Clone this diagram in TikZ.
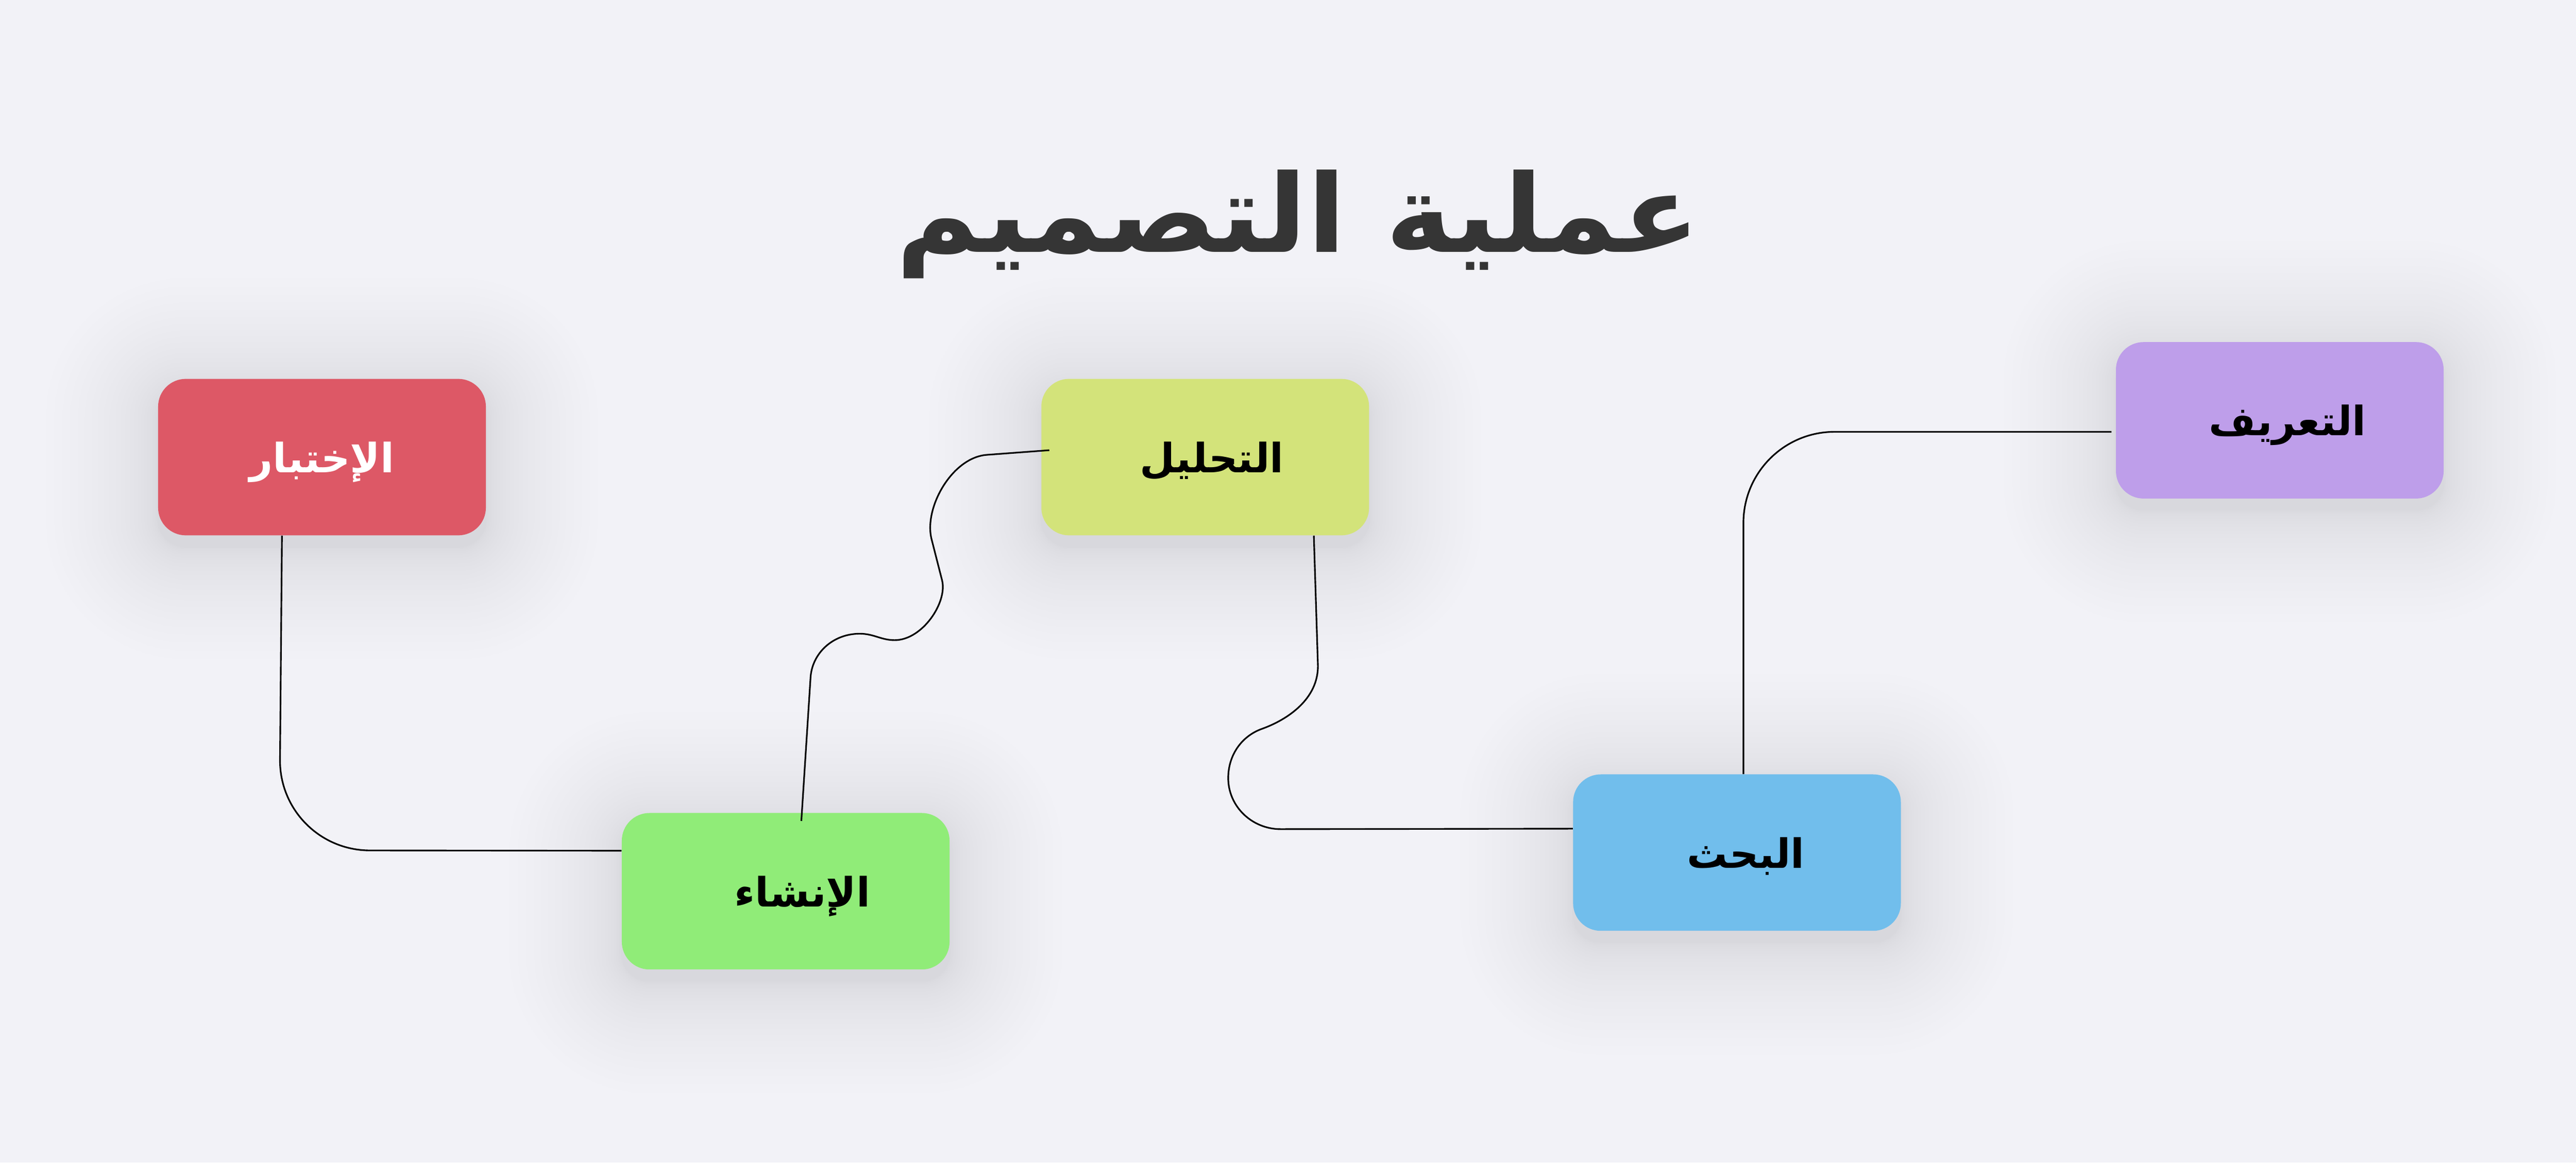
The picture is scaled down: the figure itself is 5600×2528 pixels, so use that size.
\documentclass[tikz,border=0pt]{standalone}
\usepackage{fontspec}
\usepackage{tikz}
\TeXXeTstate=1
\newfontfamily\arabicfont[Script=Arabic]{DejaVu Sans}
\newfontfamily\titlefont[Script=Arabic, FakeStretch=1.045]{DejaVu Sans}
\definecolor{bggray}{HTML}{F2F2F7}
\definecolor{titlegray}{HTML}{353535}
\definecolor{shadowtint}{HTML}{282838}
\definecolor{testred}{HTML}{DD5866}
\definecolor{analyzelime}{HTML}{D3E37A}
\definecolor{definelilac}{HTML}{BE9EEA}
\definecolor{buildgreen}{HTML}{90EC78}
\definecolor{searchblue}{HTML}{71BEEC}
\pgfdeclarelayer{canvas}
\pgfdeclarelayer{shade}
\pgfsetlayers{canvas,shade,main}

\begin{document}
\begin{tikzpicture}[x=0.01cm,y=-0.01cm,
    stage/.style={rectangle, rounded corners=0.6cm, minimum width=7.12cm, minimum height=3.4cm, inner sep=0pt,
      font=\arabicfont\bfseries\fontsize{25pt}{30pt}\selectfont, text height=24pt, text depth=5pt},
    link/.style={draw=black, line width=1pt}]
  \begin{pgfonlayer}{canvas}
    \fill[bggray] (0,0) rectangle (5600,2528);
  \end{pgfonlayer}

  \node[anchor=base, text=titlegray, font=\titlefont\bfseries\fontsize{67pt}{80pt}\selectfont] (title) at (2822,548) {\beginR عملية التصميم\endR};

  \node[stage, fill=testred, text=white] (test) at (700,994) {\beginR الإختبار\endR};
  \node[stage, fill=analyzelime] (analyze) at (2620,994) {\hspace*{0.28cm}\beginR التحليل\endR};
  \node[stage, fill=definelilac] (define) at (4956,914) {\hspace*{0.34cm}\beginR التعريف\endR};
  \node[stage, fill=buildgreen] (build) at (1708,1938) {\hspace*{0.72cm}\beginR الإنشاء\endR};
  \node[stage, fill=searchblue] (search) at (3776,1854) {\hspace*{0.38cm}\beginR البحث\endR};

  % soft shadows under the boxes
  \begin{pgfonlayer}{shade}
    \foreach \n in {test,analyze,define,build,search}
      \foreach \r in {1,...,26}
        \fill[shadowtint, opacity=0.0045, rounded corners=0.6cm+0.0036cm*\r*\r]
          ([shift={(-0.0036cm*\r*\r,-0.0036cm*\r*\r-0.25cm)}]\n.south west) rectangle ([shift={(0.0036cm*\r*\r,0.0036cm*\r*\r-0.25cm)}]\n.north east);
  \end{pgfonlayer}

  % connectors
  \draw[link, rounded corners=1.97cm] ([xshift=-0.87cm]test.south) -- (607,1849) -- ([yshift=0.88cm]build.west);
  \draw[link] ([xshift=0.34cm,yshift=-0.18cm]build.north) -- (1762,1474)
    .. controls (1765,1421) and (1810,1378) .. (1869,1378)
    .. controls (1900,1378) and (1915,1392) .. (1945,1392)
    .. controls (2005,1392) and (2060,1310) .. (2048,1262) -- (2025,1172)
    .. controls (2008,1104) and (2070,994) .. (2146,989) -- ([xshift=0.18cm,yshift=0.15cm]analyze.west);
  \draw[link] ([xshift=2.36cm]analyze.south) -- (2865,1447)
    .. controls (2866,1520) and (2799,1565) .. (2743,1585)
    .. controls (2701,1600) and (2670,1640) .. (2670,1692)
    .. controls (2670,1753) and (2721,1803) .. (2784,1803) -- ([yshift=0.52cm]search.west);
  \draw[link, rounded corners=1.98cm] ([xshift=0.14cm]search.north) -- (3790,939) -- ([xshift=-0.09cm,yshift=-0.25cm]define.west);
\end{tikzpicture}
\end{document}
